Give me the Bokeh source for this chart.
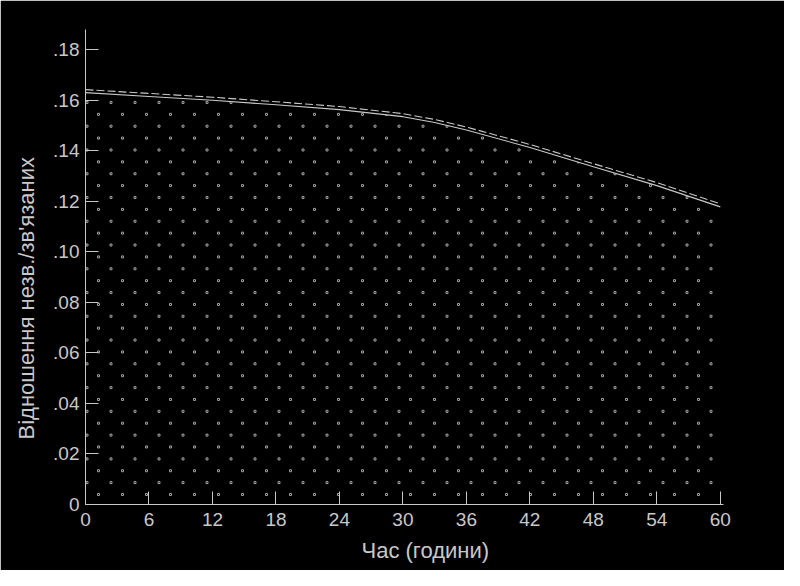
import numpy as np
from bokeh.plotting import figure
from bokeh.models import Range1d, FixedTicker, Title
from bokeh.embed import file_html
from bokeh.resources import INLINE

# data
hours = [0, 6, 12, 18, 24, 30, 33, 36, 42, 48, 54, 60]
ratio_solid = [0.1630, 0.1615, 0.1600, 0.1582, 0.1563, 0.1535, 0.1512, 0.1482, 0.1413, 0.1337, 0.1262, 0.1178]
ratio_dashed = [0.1642, 0.1627, 0.1612, 0.1594, 0.1575, 0.1547, 0.1524, 0.1494, 0.1425, 0.1349, 0.1274, 0.1190]
x_ticks = [0, 6, 12, 18, 24, 30, 36, 42, 48, 54, 60]
y_ticks = [0, 0.02, 0.04, 0.06, 0.08, 0.10, 0.12, 0.14, 0.16, 0.18]
y_tick_labels = ["0", ".02", ".04", ".06", ".08", ".10", ".12", ".14", ".16", ".18"]
x_label = "Час (години)"
y_label = "Відношення незв./зв'язаних"

FG = "#c8c8c8"
DOT = "#a0a0a0"
FONT = "Liberation Sans"
X_END, Y_END = 60.3, 0.188
FRAME_W, FRAME_H = 638, 475

p = figure(frame_width=FRAME_W, frame_height=FRAME_H, output_backend="svg", toolbar_location=None,
           x_range=Range1d(0, X_END), y_range=Range1d(0, Y_END),
           min_border_left=85, min_border_right=61, min_border_top=29, min_border_bottom=66)
p.background_fill_color = "black"
p.border_fill_color = "black"
p.outline_line_color = "black"
p.xgrid.visible = False
p.ygrid.visible = False

# decorative dot texture (staggered lattice, 24px x 12px in screen space),
# covered above the curve by a black band
lat_x, lat_y = [], []
for j, fy in enumerate(np.arange(10, FRAME_H - 20, 11.88)):
    start = 13 if j % 2 == 0 else 1.5
    for fx in np.arange(start, FRAME_W - 2, 24):
        lat_x.append(fx * X_END / FRAME_W)
        lat_y.append(fy * Y_END / FRAME_H)
p.scatter(lat_x, lat_y, marker="square", size=2, fill_color=None,
          line_color=DOT, line_width=1)
p.varea(x=hours, y1=ratio_solid, y2=Y_END, fill_color="black")
p.varea(x=[60, X_END], y1=0, y2=Y_END, fill_color="black")

p.line(hours, ratio_solid, line_color=FG, line_width=1.1)
p.line(hours, ratio_dashed, line_color=FG, line_width=1.1, line_dash="8 3")

for ax in (p.xaxis[0], p.yaxis[0]):
    ax.axis_line_color = FG
    ax.major_tick_line_color = FG
    ax.major_tick_in = 13
    ax.major_tick_out = 0
    ax.minor_tick_line_color = None
    ax.major_label_text_color = FG
    ax.major_label_text_font = FONT
    ax.major_label_text_font_size = "19px"

p.xaxis.ticker = FixedTicker(ticks=x_ticks)
p.yaxis.ticker = FixedTicker(ticks=y_ticks)
p.yaxis.major_label_overrides = {t: l for t, l in zip(y_ticks, y_tick_labels)}
p.xaxis.major_label_standoff = 8
p.yaxis.major_label_standoff = 6

p.add_layout(Title(text=x_label, align="left", offset=276, standoff=14,
                   text_color=FG, text_font=FONT, text_font_size="22px",
                   text_font_style="normal"), "below")
p.add_layout(Title(text=y_label, align="left", offset=65, standoff=23,
                   text_color=FG, text_font=FONT, text_font_size="22px",
                   text_font_style="normal"), "left")

open("out.html", "w").write(file_html(p, INLINE))
